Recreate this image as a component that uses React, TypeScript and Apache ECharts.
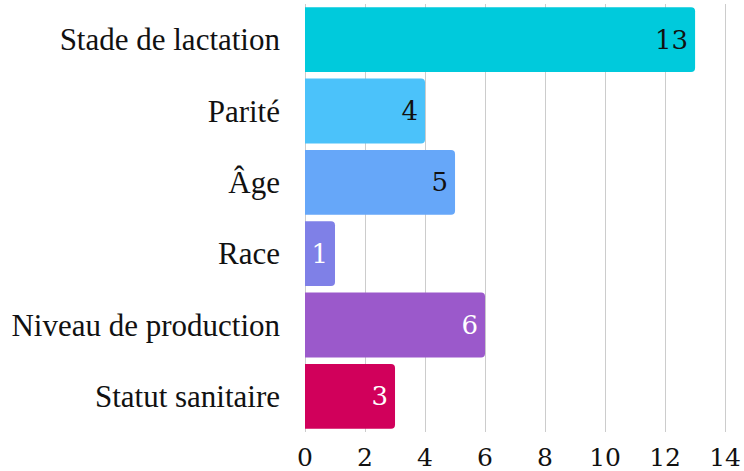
import React, { useEffect, useRef } from "react";
import * as echarts from "echarts";

const categories = ["Stade de lactation", "Parité", "Âge", "Race", "Niveau de production", "Statut sanitaire"];
const values = [13, 4, 5, 1, 6, 3];
const barColors = ["#00CADC", "#4BC2FA", "#66A7F9", "#7F80E7", "#9B59CB", "#D1005B"];
const labelColors = ["#111111", "#111111", "#111111", "#ffffff", "#ffffff", "#ffffff"];

const FONT = "'Liberation Serif', 'Times New Roman', serif";
const NUM_FONT = "'DejaVu Serif', serif";

export default function App() {
  const ref = useRef<HTMLDivElement>(null);
  useEffect(() => {
    if (!ref.current) return;
    const chart = echarts.init(ref.current, null, { renderer: "svg" });
    chart.setOption({
      animation: false,
      textStyle: { fontFamily: FONT },
      grid: { left: 305, right: 14, top: 4, bottom: 39, containLabel: false },
      xAxis: {
        type: "value",
        min: 0,
        max: 14,
        interval: 2,
        axisLine: { show: false },
        axisTick: { show: false },
        splitLine: { show: true, lineStyle: { color: "#cccccc", width: 1 } },
        axisLabel: { color: "#111111", fontFamily: NUM_FONT, fontSize: 25, lineHeight: 25, margin: 13 },
      },
      yAxis: {
        type: "category",
        inverse: true,
        data: categories,
        axisLine: { show: false },
        axisTick: { show: false },
        axisLabel: { color: "#111111", fontFamily: FONT, fontSize: 31, margin: 25 },
      },
      series: [
        {
          type: "bar",
          barCategoryGap: "9%",
          data: values.map((v, i) => ({
            value: v,
            itemStyle: { color: barColors[i], borderRadius: [0, 4, 4, 0] },
            label: { color: labelColors[i], fontFamily: NUM_FONT, fontSize: 26 },
          })),
          label: {
            show: true,
            position: "insideRight",
            distance: 7,
            fontFamily: NUM_FONT,
            fontSize: 26,
          },
        },
      ],
    });
    return () => chart.dispose();
  }, []);
  return <div ref={ref} style={{ width: 744, height: 471, position: "absolute", left: 0, top: 0 }} />;
}
